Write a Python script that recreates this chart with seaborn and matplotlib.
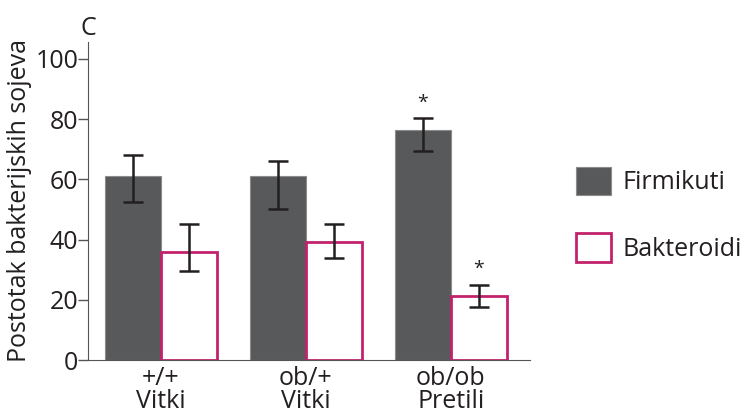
import pandas as pd
import seaborn as sns
import numpy as np
import matplotlib.pyplot as plt
from matplotlib.patches import Patch

# values (percent of bacterial strains)
groups = ['+/+\nVitki', 'ob/+\nVitki', 'ob/ob\nPretili']
species = ['Firmikuti', 'Bakteroidi']
firmikuti = [61, 61, 76.4]
firmikuti_lo = [52.5, 50, 69.3]
firmikuti_hi = [68, 66, 80.2]
bakteroidi = [36, 39.3, 21.3]
bakteroidi_lo = [29.5, 34, 17.7]
bakteroidi_hi = [45, 45, 25]
significant = [False, False, True]

df = pd.DataFrame({
    'group': groups * 2,
    'species': [species[0]] * 3 + [species[1]] * 3,
    'value': firmikuti + bakteroidi,
})

sns.set_style('white')
plt.rcParams['font.family'] = ['Open Sans', 'DejaVu Sans']
text_col = '#231f20'
dark = '#58595b'
magenta = '#c2226b'
fs = 18

fig = plt.figure(figsize=(7.44, 4.15), dpi=100)
ax = fig.add_axes([0.118, 0.1325, 0.594, 0.7665])

sns.barplot(data=df, x='group', y='value', hue='species', palette=[dark, 'white'],
            width=0.77, errorbar=None, legend=False, ax=ax)

lows = [firmikuti_lo, bakteroidi_lo]
highs = [firmikuti_hi, bakteroidi_hi]
bar_conts = list(ax.containers)
for k, cont in enumerate(bar_conts):
    xs = [b.get_x() + b.get_width() / 2 for b in cont]
    vals = [b.get_height() for b in cont]
    for b in cont:
        if k == 0:
            b.set_edgecolor('#8c8c8c')
            b.set_linewidth(0.8)
        else:
            b.set_facecolor('white')
            b.set_edgecolor(magenta)
            b.set_linewidth(2.0)
    yerr = [np.array(vals) - np.array(lows[k]), np.array(highs[k]) - np.array(vals)]
    ax.errorbar(xs, vals, yerr=yerr, fmt='none', ecolor=text_col, elinewidth=1.8,
                capsize=7.5, capthick=1.8, zorder=5)
    for i, s in enumerate(significant):
        if s:
            ax.text(xs[i], highs[k][i] + 3.5, '*', ha='center', va='baseline',
                    fontsize=14, color=text_col)

ax.set_ylim(0, 105.6)
ax.set_xlim(-0.503, 2.545)
ax.set_yticks([0, 20, 40, 60, 80, 100])
ax.set_xlabel('')
ax.set_ylabel('Postotak bakterijskih sojeva', fontsize=fs, color=text_col, labelpad=2)
ax.tick_params(axis='y', which='both', left=True, length=7, width=1, color='#555555',
               labelsize=fs, labelcolor=text_col, pad=0)
ax.tick_params(axis='x', bottom=False, labelsize=fs, labelcolor=text_col, pad=0.5)
for lab in ax.get_xticklabels():
    lab.set_linespacing(0.92)
sns.despine(ax=ax)
ax.spines['left'].set_color('#555555')
ax.spines['bottom'].set_color('#555555')

fig.text(0.108, 0.915, 'C', fontsize=fs, color=text_col)

handles = [Patch(facecolor=dark, edgecolor='#8c8c8c', linewidth=0.8),
           Patch(facecolor='white', edgecolor=magenta, linewidth=2.0)]
fig.legend(handles, species, loc='center left', bbox_to_anchor=(0.774, 0.484),
           frameon=False, fontsize=fs, handlelength=1.4, handleheight=1.4,
           labelspacing=1.5, handletextpad=0.45, labelcolor=text_col,
           borderpad=0, borderaxespad=0)

fig.savefig('out.png', dpi=100)
